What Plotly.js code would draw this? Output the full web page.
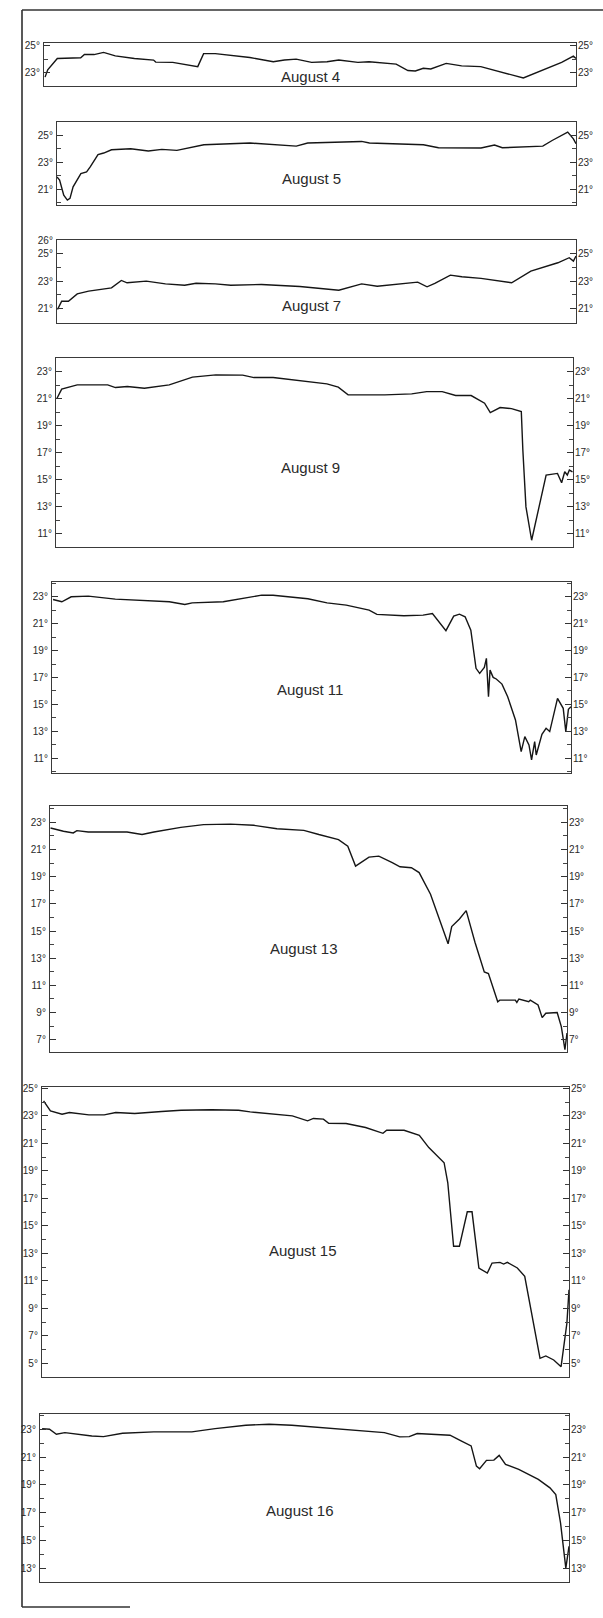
<!DOCTYPE html>
<html><head><meta charset="utf-8">
<script src="https://cdn.plot.ly/plotly-3.0.1.min.js"></script>
<style>html,body{margin:0;padding:0;background:#fff}#chart{width:603px;height:1618px}</style>
</head><body><div id="chart"></div>
<script>
// ---------- DATA (temperature °C along the record, x = relative position 0-100) ----------
const panelNames = ['August 4','August 5','August 7','August 9','August 11','August 13','August 15','August 16'];

const aug4X = [0.2,0.7,2.5,6.9,7.6,9.4,11.2,13.4,17.0,20.6,21.0,24.2,28.9,30.0,32.2,38.7,43.1,45.2,47.4,50.3,53.2,55.4,59.0,61.1,66.2,68.4,69.8,71.3,72.7,75.6,78.5,82.1,90.1,93.0,97.3,99.5,100];
const aug4T = [22.66,23.2,24.05,24.1,24.34,24.34,24.5,24.24,24.05,23.93,23.78,23.76,23.44,24.41,24.41,24.12,23.8,23.93,24.0,23.76,23.8,23.93,23.76,23.8,23.63,23.15,23.12,23.32,23.27,23.68,23.5,23.44,22.6,23.07,23.76,24.22,24.05];

const aug5X = [0,0.5,1.3,2.0,2.5,3.1,4.6,5.7,6.4,7.9,9.0,10.5,14.2,17.6,20.2,23.1,28.3,37.2,46.1,48.3,58.7,60.2,70.6,73.5,81.7,84.3,85.8,88.4,93.6,95.4,98.4,99.5,100];
const aug5T = [21.93,21.69,20.58,20.21,20.34,21.2,22.18,22.3,22.67,23.58,23.7,23.94,24.02,23.85,23.97,23.9,24.31,24.44,24.21,24.44,24.56,24.44,24.31,24.09,24.07,24.29,24.09,24.14,24.21,24.63,25.25,24.75,24.39];

const aug7X = [0.1,0.9,2.2,3.9,6.1,10.5,12.4,13.5,17.2,20.9,24.6,26.8,30.5,33.5,39.4,46.8,54.3,58.7,61.7,66.1,69.5,71.3,72.8,75.8,78.0,81.7,87.6,91.3,93.6,96.5,98.7,99.5,100];
const aug7T = [20.93,21.54,21.54,22.07,22.27,22.51,23.05,22.88,23.0,22.8,22.7,22.85,22.8,22.7,22.76,22.61,22.34,22.8,22.63,22.8,22.93,22.59,22.83,23.44,23.32,23.2,22.88,23.73,24.02,24.34,24.71,24.46,24.83];

const aug9X = [0.2,1.1,4.1,10.0,11.5,13.8,17.1,21.9,26.4,30.9,36.1,38.3,42.0,47.2,52.4,54.6,56.5,63.6,68.8,71.7,74.7,77.3,80.3,82.9,84.0,85.9,88.1,90.0,90.3,90.9,92.0,94.8,96.3,97.0,97.8,98.4,98.9,99.3,99.9];
const aug9T = [21.02,21.69,22.01,22.01,21.81,21.89,21.76,22.01,22.58,22.75,22.73,22.55,22.55,22.31,22.08,21.84,21.27,21.27,21.34,21.51,21.51,21.22,21.22,20.65,19.96,20.33,20.25,20.03,17.18,12.97,10.5,15.33,15.4,15.45,14.76,15.57,15.33,15.7,15.57];

const aug11X = [0.2,1.9,3.7,7.0,12.2,19.6,22.6,25.6,27.0,33.0,36.7,40.4,42.6,45.6,49.3,53.0,56.7,61.1,62.6,67.8,71.5,73.3,75.9,77.4,78.5,79.6,80.7,81.7,82.4,83.3,83.7,84.1,84.4,85.0,85.6,86.7,87.8,89.3,90.4,91.1,91.9,92.4,93.0,93.3,94.4,95.2,95.9,97.4,98.5,99.0,99.5,100];
const aug11T = [22.8,22.63,23.0,23.05,22.83,22.68,22.63,22.43,22.55,22.63,22.88,23.12,23.12,23.0,22.85,22.55,22.38,22.01,21.69,21.59,21.64,21.76,20.48,21.56,21.71,21.51,20.52,17.68,17.31,17.75,18.42,15.57,17.55,17.01,16.89,16.51,15.57,13.84,11.49,12.6,11.99,10.87,12.23,11.24,12.78,13.22,12.98,15.45,14.71,12.98,14.63,14.83];

const aug13X = [0.1,2.6,4.5,5.2,7.4,14.9,17.8,20.1,25.3,29.7,34.9,39.4,43.9,49.1,52.0,55.8,57.6,59.1,61.7,63.6,66.2,67.7,69.9,71.4,73.6,77.0,77.7,79.2,80.5,82.2,84.0,84.8,86.6,87.0,90.0,90.3,90.7,92.6,92.9,94.4,95.2,95.9,98.1,98.9,99.6,100];
const aug13T = [22.58,22.34,22.22,22.39,22.29,22.29,22.1,22.29,22.63,22.83,22.87,22.78,22.53,22.41,22.1,21.73,21.24,19.78,20.44,20.51,20.03,19.73,19.66,19.3,17.71,14.06,15.33,15.89,16.5,14.18,11.99,11.87,9.8,9.92,9.92,9.75,10.0,9.8,9.92,9.56,8.63,8.95,9.0,7.97,6.27,7.49];

const aug15X = [0.3,1.6,3.8,5.2,8.9,11.8,14.0,17.6,22.7,26.4,32.2,37.3,39.5,43.1,47.5,50.4,51.5,53.4,54.4,57.7,61.4,64.7,65.4,68.7,71.6,73.4,76.3,77.0,78.1,79.2,80.7,81.6,82.9,84.5,85.4,86.9,87.6,88.3,90.2,91.6,93.4,94.5,95.6,97.1,98.5,99.6,100];
const aug15T = [24.09,23.36,23.12,23.24,23.07,23.07,23.24,23.17,23.32,23.41,23.44,23.41,23.29,23.17,23.0,22.64,22.81,22.76,22.46,22.44,22.15,21.73,21.95,21.95,21.59,20.69,19.59,18.13,13.51,13.51,16.02,16.02,11.93,11.56,12.29,12.34,12.22,12.34,11.93,11.32,7.43,5.36,5.53,5.24,4.75,7.91,10.35];

const aug16X = [0.4,1.8,3.1,4.7,9.8,12.0,15.6,21.5,28.7,33.1,38.9,43.3,47.6,54.2,61.5,65.1,68.0,69.8,71.3,77.5,79.6,81.5,82.5,83.1,84.4,85.8,86.8,88.0,90.5,94.2,96.4,97.5,98.4,99.4,100];
const aug16T = [23.05,23.0,22.64,22.76,22.52,22.47,22.71,22.81,22.81,23.05,23.29,23.36,23.29,23.07,22.83,22.76,22.45,22.47,22.69,22.57,22.16,21.8,20.35,20.16,20.76,20.78,21.12,20.47,20.11,19.39,18.78,18.3,16.25,13.0,14.57];

// tick labels (degrees) on each side of each panel
const leftTicks = [[25,23],[25,23,21],[26,25,23,21],[23,21,19,17,15,13,11],[23,21,19,17,15,13,11],[23,21,19,17,15,13,11,9,7],[25,23,21,19,17,15,13,11,9,7,5],[23,21,19,17,15,13]];
const rightTicks = [[25,23],[25,23,21],[25,23,21],[23,21,19,17,15,13,11],[23,21,19,17,15,13,11],[23,21,19,17,15,13,11,9,7],[25,23,21,19,17,15,13,11,9,7,5],[23,21,19,17,15,13]];

const seriesX = [aug4X,aug5X,aug7X,aug9X,aug11X,aug13X,aug15X,aug16X];
const seriesT = [aug4T,aug5T,aug7T,aug9T,aug11T,aug13T,aug15T,aug16T];

// ---------- LAYOUT (pixel geometry of the page) ----------
const W = 603, H = 1618;
// [left, right, top, bottom] of each panel box, in px
const boxes = [[44,576,43,86],[57,576,122,205],[57,576,240,323],[56,573,358,547],[52,571,582,773],[50,567,806,1052],[42,569,1087,1377],[40,569,1414,1582]];
const yRanges = [[22.0,25.2],[19.85,26.0],[19.95,26.0],[10.0,24.0],[9.9,24.1],[6.1,24.2],[4.0,25.1],[12.0,24.1]];
const titlePos = [[310,76],[311,178],[311,305],[310,467],[310,690],[304,948],[303,1250],[300,1510]];

const ink = '#151515';
const fontFam = '"Liberation Sans", Arial, sans-serif';
const traces = [];
const layout = {
  width: W, height: H, margin: {l:0,r:0,t:0,b:0},
  paper_bgcolor: '#fff', plot_bgcolor: 'rgba(0,0,0,0)',
  showlegend: false, annotations: [], shapes: [],
  font: {family: fontFam, color: ink}
};
const fmt = v => v + '°';

for (let i = 0; i < 8; i++) {
  const n = i + 1, nr = i + 9;
  const [l, r, t, b] = boxes[i];
  const xd = [l / W, r / W], yd = [1 - b / H, 1 - t / H];
  traces.push({x: seriesX[i], y: seriesT[i], type: 'scatter', mode: 'lines',
    line: {color: ink, width: 1.4}, xaxis: 'x' + n, yaxis: 'y' + n, hoverinfo: 'skip'});
  layout['xaxis' + n] = {domain: xd, anchor: 'y' + n, range: [0, 100], showticklabels: false,
    ticks: '', showgrid: false, zeroline: false, showline: true, mirror: true,
    linecolor: '#3a3a3a', linewidth: 1.1, fixedrange: true};
  layout['yaxis' + n] = {domain: yd, anchor: 'x' + n, range: yRanges[i],
    tickmode: 'array', tickvals: leftTicks[i], ticktext: leftTicks[i].map(fmt),
    ticks: 'inside', ticklen: 6, tickwidth: 1, tickcolor: '#333',
    minor: {tickmode: 'linear', tick0: 0, dtick: 1, ticks: 'inside', ticklen: 4, tickcolor: '#444', showgrid: false},
    tickfont: {size: 10, family: fontFam, color: '#2a2a2a'}, ticklabelstandoff: 1,
    showgrid: false, zeroline: false, showline: true, mirror: true,
    linecolor: '#3a3a3a', linewidth: 1.1, fixedrange: true};
  layout['yaxis' + nr] = {overlaying: 'y' + n, anchor: 'x' + n, side: 'right', range: yRanges[i],
    tickmode: 'array', tickvals: rightTicks[i], ticktext: rightTicks[i].map(fmt),
    ticks: 'inside', ticklen: 6, tickwidth: 1, tickcolor: '#333',
    minor: {tickmode: 'linear', tick0: 0, dtick: 1, ticks: 'inside', ticklen: 4, tickcolor: '#444', showgrid: false},
    tickfont: {size: 10, family: fontFam, color: '#2a2a2a'}, ticklabelstandoff: 1,
    showgrid: false, zeroline: false, showline: false, fixedrange: true};
  // invisible companion trace so the right-hand axis is drawn
  traces.push({x: [seriesX[i][0]], y: [seriesT[i][0]], type: 'scatter', mode: 'markers',
    marker: {opacity: 0, size: 1}, xaxis: 'x' + n, yaxis: 'y' + nr, hoverinfo: 'skip'});
  layout.annotations.push({text: panelNames[i], xref: 'paper', yref: 'paper',
    x: titlePos[i][0] / W, y: 1 - titlePos[i][1] / H, xanchor: 'center', yanchor: 'middle',
    showarrow: false, font: {size: 15, family: fontFam, color: '#2a2a2a'}});
}
// outer frame of the page
layout.shapes.push({type: 'line', xref: 'paper', yref: 'paper', x0: 22 / W, x1: 22 / W, y0: 1 - 10 / H, y1: 1 - 1607 / H, line: {color: '#222', width: 1.5}});
layout.shapes.push({type: 'line', xref: 'paper', yref: 'paper', x0: 22 / W, x1: 603 / W, y0: 1 - 10 / H, y1: 1 - 10 / H, line: {color: '#333', width: 1.3}});
layout.shapes.push({type: 'line', xref: 'paper', yref: 'paper', x0: 22 / W, x1: 130 / W, y0: 1 - 1607 / H, y1: 1 - 1607 / H, line: {color: '#333', width: 1.3}});

Plotly.newPlot('chart', traces, layout, {staticPlot: true, displayModeBar: false});
</script></body></html>
